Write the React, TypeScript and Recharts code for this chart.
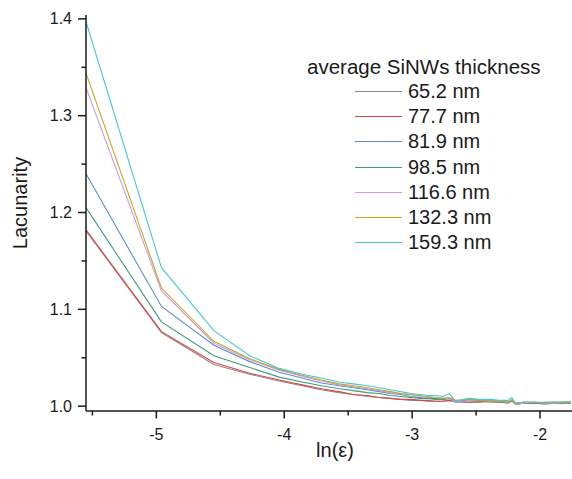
import React from 'react';
import { LineChart, Line, XAxis, YAxis, Legend } from 'recharts';

// ln(epsilon) positions of the box sizes
const lnEps = [
  -5.55, -4.96, -4.55, -4.27, -4.04, -3.86, -3.71, -3.57, -3.46, -3.35, -3.26,
  -3.17, -3.09, -3.01, -2.94, -2.88, -2.82, -2.76, -2.71, -2.66, -2.56, -2.47,
  -2.39, -2.32, -2.25, -2.22, -2.19, -2.13, -2.04, -1.96, -1.89, -1.83, -1.76,
];

const lac652 = [
  1.181, 1.076, 1.043, 1.033, 1.026, 1.021, 1.017, 1.014, 1.012, 1.010, 1.009,
  1.008, 1.007, 1.006, 1.006, 1.005, 1.005, 1.005, 1.006, 1.004, 1.004, 1.005,
  1.004, 1.004, 1.003, 1.005, 1.002, 1.003, 1.003, 1.002, 1.003, 1.003, 1.003,
];
const lac777 = [
  1.182, 1.077, 1.045, 1.034, 1.027, 1.022, 1.018, 1.015, 1.012, 1.011, 1.009,
  1.008, 1.007, 1.007, 1.006, 1.006, 1.005, 1.005, 1.006, 1.005, 1.004, 1.004,
  1.005, 1.004, 1.004, 1.006, 1.002, 1.003, 1.003, 1.003, 1.003, 1.004, 1.003,
];
const lac819 = [
  1.240, 1.103, 1.063, 1.046, 1.035, 1.029, 1.024, 1.021, 1.019, 1.017, 1.015,
  1.013, 1.012, 1.010, 1.009, 1.008, 1.008, 1.007, 1.008, 1.005, 1.006, 1.005,
  1.005, 1.005, 1.004, 1.006, 1.003, 1.004, 1.004, 1.003, 1.004, 1.004, 1.004,
];
const lac985 = [
  1.205, 1.087, 1.052, 1.040, 1.030, 1.025, 1.021, 1.018, 1.016, 1.014, 1.013,
  1.011, 1.010, 1.009, 1.008, 1.008, 1.007, 1.007, 1.008, 1.005, 1.006, 1.006,
  1.005, 1.005, 1.004, 1.006, 1.003, 1.004, 1.003, 1.004, 1.004, 1.003, 1.004,
];
const lac1166 = [
  1.329, 1.119, 1.065, 1.048, 1.037, 1.031, 1.026, 1.022, 1.020, 1.018, 1.016,
  1.014, 1.013, 1.012, 1.010, 1.009, 1.009, 1.008, 1.008, 1.004, 1.006, 1.006,
  1.005, 1.005, 1.004, 1.007, 1.002, 1.003, 1.004, 1.003, 1.003, 1.004, 1.004,
];
const lac1323 = [
  1.344, 1.122, 1.067, 1.049, 1.038, 1.032, 1.027, 1.023, 1.021, 1.019, 1.017,
  1.015, 1.013, 1.012, 1.011, 1.010, 1.009, 1.008, 1.009, 1.006, 1.007, 1.006,
  1.006, 1.005, 1.005, 1.006, 1.003, 1.004, 1.004, 1.004, 1.004, 1.004, 1.005,
];
const lac1593 = [
  1.397, 1.143, 1.078, 1.052, 1.039, 1.033, 1.029, 1.025, 1.023, 1.021, 1.019,
  1.017, 1.015, 1.013, 1.012, 1.011, 1.011, 1.010, 1.013, 1.005, 1.008, 1.007,
  1.007, 1.006, 1.006, 1.009, 1.003, 1.004, 1.004, 1.003, 1.004, 1.004, 1.004,
];

const seriesNames = ['65.2 nm', '77.7 nm', '81.9 nm', '98.5 nm', '116.6 nm', '132.3 nm', '159.3 nm'];
const seriesColors = ['#8a8a8a', '#d9484a', '#5b8fd4', '#3a9e78', '#c79ce0', '#c9a521', '#45c8d3'];
const seriesValues = [lac652, lac777, lac819, lac985, lac1166, lac1323, lac1593];

const xTicks = [-5.5, -5, -4.5, -4, -3.5, -3, -2.5, -2];
const yTicks = [1.0, 1.05, 1.1, 1.15, 1.2, 1.25, 1.3, 1.35, 1.4];

const data = lnEps.map((x, i) => {
  const row: Record<string, number> = { x };
  seriesValues.forEach((vals, s) => {
    row['s' + s] = vals[i];
  });
  return row;
});

const FONT = '"Liberation Sans", Arial, sans-serif';
const INK = '#1a1a1a';

function YTick({ x, y, payload }: any) {
  const v = payload.value as number;
  const major = Math.abs(v * 10 - Math.round(v * 10)) < 1e-6;
  return (
    <g>
      <line x1={x} x2={x - (major ? 8 : 4.5)} y1={y} y2={y} stroke={INK} strokeWidth={1.5} />
      {major && (
        <text x={x - 14} y={y} dy={5.6} textAnchor="end" fontSize={16} fontFamily={FONT} fill={INK}>
          {v.toFixed(1)}
        </text>
      )}
    </g>
  );
}

function XTick({ x, y, payload }: any) {
  const v = payload.value as number;
  const major = Number.isInteger(v);
  return (
    <g>
      <line x1={x} x2={x} y1={y} y2={y + (major ? 7.5 : 4.5)} stroke={INK} strokeWidth={1.5} />
      {major && (
        <text x={x} y={y + 28.5} textAnchor="middle" fontSize={16} fontFamily={FONT} fill={INK}>
          {String(v)}
        </text>
      )}
    </g>
  );
}

function YLabel({ viewBox }: any) {
  const cx = viewBox.x + 20;
  const cy = viewBox.y + viewBox.height / 2 - 10;
  return (
    <text
      x={cx}
      y={cy}
      transform={`rotate(-90, ${cx}, ${cy})`}
      textAnchor="middle"
      dy={7}
      fontSize={20}
      fontFamily={FONT}
      fill={INK}
    >
      Lacunarity
    </text>
  );
}

function XLabel({ viewBox }: any) {
  const cx = viewBox.x + viewBox.width / 2 + 6;
  return (
    <text x={cx} y={viewBox.y + 46} textAnchor="middle" fontSize={20} fontFamily={FONT} fill={INK}>
      ln(ε)
    </text>
  );
}

function ThicknessLegend({ payload }: any) {
  return (
    <div style={{ fontFamily: FONT, fontSize: 20, color: INK }}>
      <div style={{ height: 25, lineHeight: '25px', paddingLeft: 7, whiteSpace: 'nowrap', fontSize: 20.5 }}>
        average SiNWs thickness
      </div>
      {(payload || []).map((p: any) => {
        const idx = seriesNames.indexOf(p.value);
        const color = idx >= 0 ? seriesColors[idx] : p.color;
        return (
          <div key={p.value} style={{ height: 25.2, display: 'flex', alignItems: 'center', whiteSpace: 'nowrap' }}>
            <span style={{ display: 'inline-block', marginLeft: 55, width: 47, borderTop: `1.5px solid ${color}` }} />
            <span style={{ marginLeft: 6 }}>{p.value}</span>
          </div>
        );
      })}
    </div>
  );
}

export default function App() {
  return (
    <div style={{ position: 'absolute', left: 0, top: 0, background: '#fff' }}>
      <LineChart width={572} height={479} data={data} margin={{ top: 15, right: 0, bottom: 0, left: 0 }}>
        <XAxis
          type="number"
          dataKey="x"
          domain={[-5.55, -1.75]}
          ticks={xTicks}
          height={68}
          tickSize={0}
          tickMargin={0}
          tickLine={false}
          tick={<XTick />}
          axisLine={{ stroke: INK, strokeWidth: 1.5 }}
          label={<XLabel />}
          interval={0}
        />
        <YAxis
          type="number"
          domain={[0.995, 1.404]}
          ticks={yTicks}
          width={86}
          tickSize={0}
          tickMargin={0}
          tickLine={false}
          tick={<YTick />}
          axisLine={{ stroke: INK, strokeWidth: 1.5 }}
          label={<YLabel />}
          interval={0}
        />
        <Legend
          layout="vertical"
          align="center"
          verticalAlign="middle"
          itemSorter="dataKey"
          content={<ThicknessLegend />}
          wrapperStyle={{ left: 300, top: 54, width: 265 }}
        />
        {seriesValues.map((_, s) => (
          <Line
            key={s}
            type="linear"
            dataKey={'s' + s}
            name={seriesNames[s]}
            stroke={seriesColors[s]}
            strokeWidth={1.1}
            dot={false}
            activeDot={false}
            isAnimationActive={false}
          />
        ))}
      </LineChart>
    </div>
  );
}
